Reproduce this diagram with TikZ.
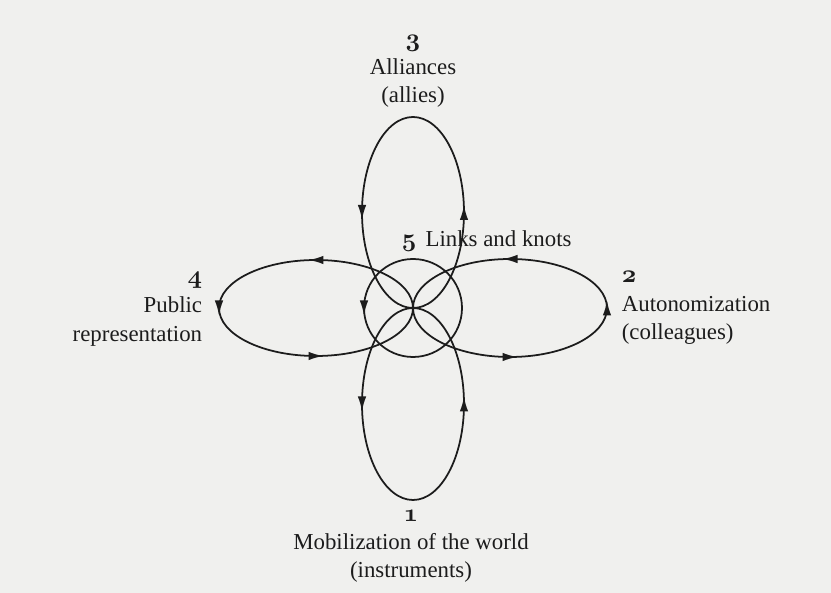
\documentclass[tikz,border=0pt]{standalone}
\usepackage{fontspec}
\setmainfont{Liberation Serif}
\usetikzlibrary{arrows.meta,decorations.markings}
\definecolor{ink}{RGB}{28,28,28}
\definecolor{paper}{RGB}{240,240,238}
\newcommand\osf[1]{{\fontsize{14.4}{15}\usefont{OML}{cmm}{b}{it}#1}}
\begin{document}
\begin{tikzpicture}[x=0.2mm,y=0.2mm,line width=1pt,
  lbl/.style={font=\fontsize{13}{15}\selectfont,inner sep=0pt,text=ink,anchor=base},
  tip/.style={postaction={decorate,decoration={markings,
    mark=at position #1 with {\arrow[xshift=1.5mm]{Latex[length=3mm,width=1.7mm]}}}}}]
  \fill[paper] (-413,-285) rectangle (418,308);
  \useasboundingbox (-413,-285) rectangle (418,308);
  % knot in the middle
  \draw[ink,tip=.5] (0,0) circle (49);
  % the four loops
  \draw[ink,tip=0,tip=.5] (0,95.5) ellipse (51 and 95.5);
  \draw[ink,tip=0,tip=.25,tip=.75] (97,0) ellipse (97 and 49);
  \draw[ink,tip=0,tip=.5] (0,-96) ellipse (51 and 96);
  \draw[ink,tip=.25,tip=.5,tip=.75] (-97,0) ellipse (97 and 48);
  % labels
  \node[lbl] (n3) at (0,261) {\osf{3}};
  \node[lbl] (alliances) at (0,233) {Alliances};
  \node[lbl] (allies) at (0,205) {(allies)};
  \node[lbl,anchor=base west] (links) at (-12,61) {\osf{5}\hspace{0.4em}Links and knots};
  \node[lbl,anchor=base west] (n2) at (208,25) {\osf{2}};
  \node[lbl,anchor=base west] (autonomy) at (208,-4) {Autonomization};
  \node[lbl,anchor=base west] (colleagues) at (208,-32) {(colleagues)};
  \node[lbl,anchor=base east] (n4) at (-210,24) {\osf{4}};
  \node[lbl,anchor=base east] (public) at (-210,-5) {Public};
  \node[lbl,anchor=base east] (representation) at (-210,-34) {representation};
  \node[lbl] (n1) at (-2,-214) {\osf{1}};
  \node[lbl] (mobilization) at (-2,-242) {Mobilization of the world};
  \node[lbl] (instruments) at (-2,-270) {(instruments)};
\end{tikzpicture}
\end{document}
